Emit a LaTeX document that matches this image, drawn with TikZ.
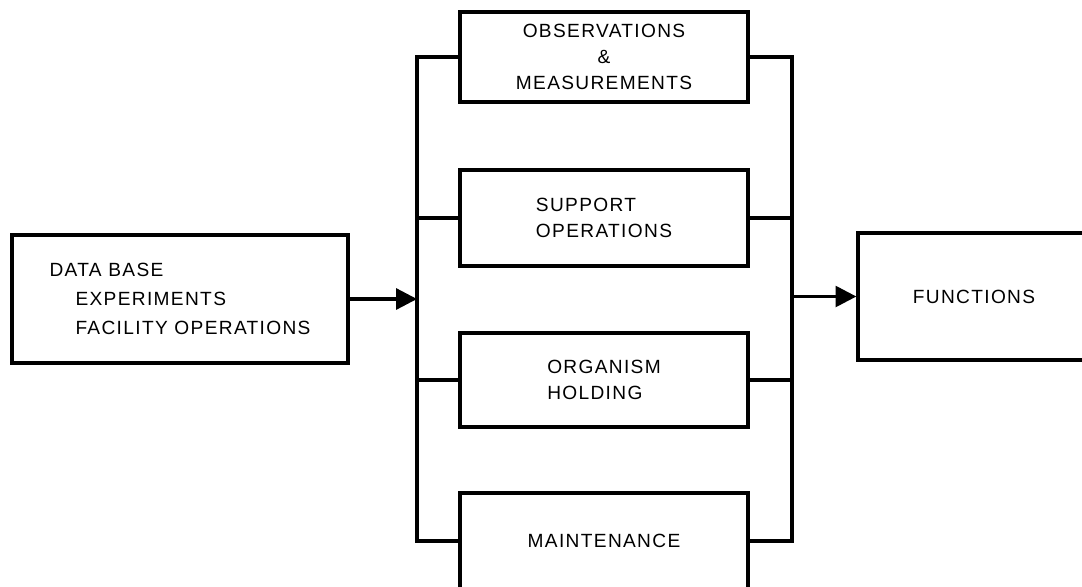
\documentclass[tikz,border=0pt]{standalone}
\usepackage{fontspec}
\setsansfont{Liberation Sans}[LetterSpace=7]
\usepackage{tikz}
\usetikzlibrary{arrows.meta, positioning}
\tikzset{
  block/.style={draw, line width=2.3pt, inner sep=0pt, align=left,
                font=\sffamily\fontsize{13.6}{18.5}\selectfont},
  link/.style={line width=2.3pt},
  feed/.style={line width=2.3pt, -{Triangle[length=0.52cm, width=0.52cm]}}
}

\begin{document}
\begin{tikzpicture}[x=0.025cm, y=-0.025cm]
  \useasboundingbox (0,0) rectangle (1082,586);
  \clip (0,0) rectangle (1082,586);

  % Input
  \node[block, minimum width=8.4cm, minimum height=3.2cm,
        font=\sffamily\fontsize{13.6}{20.6}\selectfont] (base) at (180,299)
    {DATA BASE\\ \hspace{0.65cm}EXPERIMENTS\\ \hspace{0.65cm}FACILITY OPERATIONS};

  % Parallel blocks
  \node[block, align=center, minimum width=7.2cm, minimum height=2.25cm]
    (obs) at (604,57) {OBSERVATIONS\\ \&\\ MEASUREMENTS};
  \node[block, minimum width=7.2cm, minimum height=2.4cm]
    (supp) at (604,218) {SUPPORT\\ OPERATIONS};
  \node[block, minimum width=7.2cm, minimum height=2.35cm]
    (org) at (604,380) {ORGANISM\\ HOLDING};
  \node[block, minimum width=7.2cm, minimum height=2.4cm]
    (maint) at (604,541) {MAINTENANCE};

  % Output
  \node[block, minimum width=6.3cm, minimum height=3.175cm]
    (func) at (984,296.5) {\hspace{-0.5cm}FUNCTIONS};

  % Buses
  \coordinate (lbus) at (417,300);
  \coordinate (rbus) at (792,300);
  \draw[link] (obs.west) -| (lbus) |- (maint.west);
  \draw[link] (obs.east) -| (rbus) |- (maint.east);
  \foreach \b in {supp, org} {
    \draw[link] (\b.west) -- (\b.west -| lbus);
    \draw[link] (\b.east) -- (\b.east -| rbus);
  }

  % Arrows
  \draw[feed] (base.east) -- (base.east -| lbus);
  \draw[feed] (func.west -| rbus) -- (func.west);
\end{tikzpicture}
\end{document}
